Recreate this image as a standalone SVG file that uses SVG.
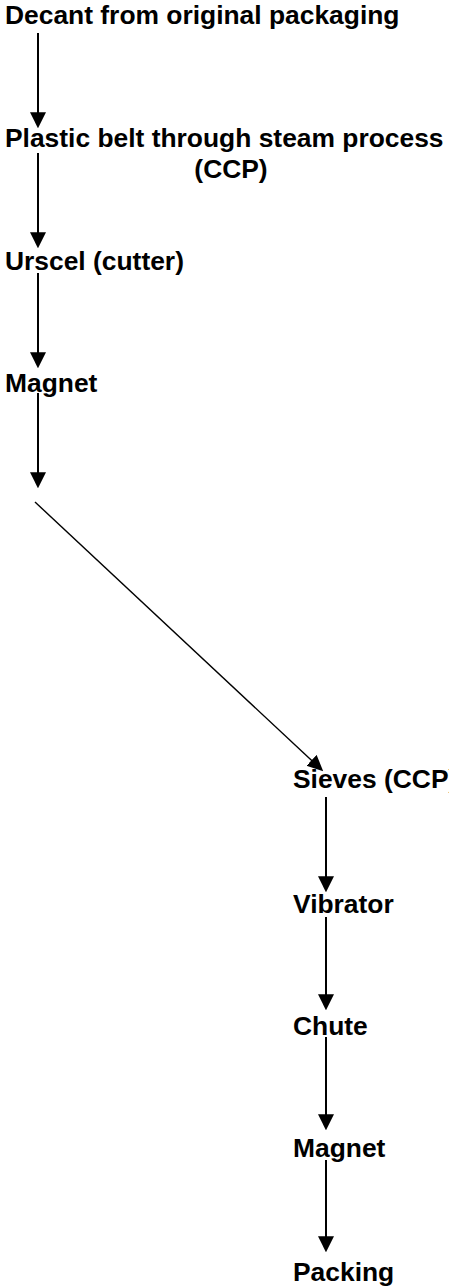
<svg xmlns="http://www.w3.org/2000/svg" width="449" height="1287" viewBox="0 0 449 1287">
<defs>
<style>
.t{font-family:"Liberation Sans",Arial,sans-serif;font-weight:bold;font-size:26.4px;fill:#000}
.c{stroke:#000;stroke-width:2;fill:none;marker-end:url(#ah)}
.d{stroke:#000;stroke-width:1.4;fill:none;marker-end:url(#ah2)}
</style>
<marker id="ah" markerUnits="userSpaceOnUse" markerWidth="16" markerHeight="16" refX="10" refY="7.5" orient="auto" viewBox="0 0 15 15">
<path d="M0,0 L15,7.5 L0,15 z" fill="#000"/>
</marker>
<marker id="ah2" markerUnits="userSpaceOnUse" markerWidth="16" markerHeight="16" refX="10" refY="7" orient="auto" viewBox="0 0 15 14">
<path d="M0,0 L15,7 L0,14 z" fill="#000"/>
</marker>
</defs>
<rect width="449" height="1287" fill="#fff"/>
<g id="connectors">
<line class="c" x1="38" y1="33" x2="38" y2="123"/>
<line class="c" x1="38" y1="153" x2="38" y2="243"/>
<line class="c" x1="38" y1="273" x2="38" y2="363"/>
<line class="c" x1="38" y1="393" x2="38" y2="483"/>
<line class="d" x1="35" y1="502" x2="319.3" y2="767.6"/>
<line class="c" x1="326" y1="797" x2="326" y2="887"/>
<line class="c" x1="326" y1="917" x2="326" y2="1005"/>
<line class="c" x1="326" y1="1037" x2="326" y2="1125"/>
<line class="c" x1="326" y1="1160" x2="326" y2="1247"/>
</g>
<g id="n1"><text class="t" x="5" y="24">Decant from original packaging</text></g>
<g id="n2"><text class="t" x="5" y="147">Plastic belt through steam process</text><text class="t" x="231" y="178" text-anchor="middle">(CCP)</text></g>
<g id="n3"><text class="t" x="5" y="270">Urscel (cutter)</text></g>
<g id="n4"><text class="t" x="5" y="392">Magnet</text></g>
<g id="n5"><text class="t" x="293" y="788">Sieves (CCP)</text></g>
<g id="n6"><text class="t" x="293" y="913">Vibrator</text></g>
<g id="n7"><text class="t" x="293" y="1035">Chute</text></g>
<g id="n8"><text class="t" x="293" y="1157">Magnet</text></g>
<g id="n9"><text class="t" x="293" y="1281">Packing</text></g>
</svg>
